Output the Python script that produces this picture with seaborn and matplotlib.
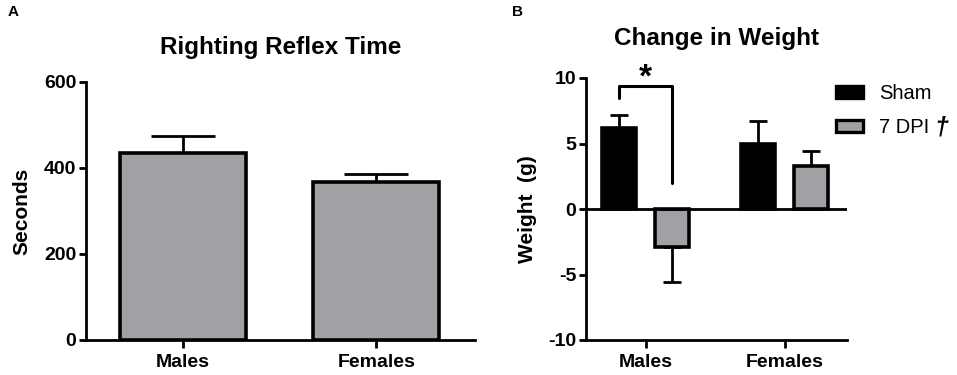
import numpy as np
import pandas as pd
import matplotlib
matplotlib.use("Agg")
import matplotlib.pyplot as plt
import seaborn as sns
from matplotlib.patches import Patch

sns.set_style("ticks")
plt.rcParams['font.family'] = ['Liberation Sans', 'DejaVu Sans']
plt.rcParams['axes.unicode_minus'] = False
for k in ("text.color", "axes.labelcolor", "axes.edgecolor",
          "xtick.color", "ytick.color", "xtick.labelcolor", "ytick.labelcolor"):
    plt.rcParams[k] = "black"

# ---- data ----
sexes = ["Males", "Females"]
righting_mean = [435, 367]
righting_sem = [40, 20]

groups = ["Sham", "7 DPI"]
sham_mean = [6.2, 5.0]
sham_sem = [1.0, 1.75]
dpi_mean = [-2.9, 3.3]
dpi_sem = [2.7, 1.1]

gray = "#a1a1a5"

dfA = pd.DataFrame({"sex": sexes, "seconds": righting_mean})
dfB = pd.DataFrame({
    "sex": sexes + sexes,
    "group": [groups[0]] * 2 + [groups[1]] * 2,
    "weight": sham_mean + dpi_mean,
})

fig = plt.figure(figsize=(9.57, 3.75), dpi=100)
axA = fig.add_axes([86/957, 1-340/375, (475-86)/957, (340-82)/375])
axB = fig.add_axes([586/957, 1-340/375, (847-586)/957, (340-78)/375])


def one_sided_err(ax, bars, means, errs, lw, cap):
    for b, m, e in zip(bars, means, errs):
        x = b.get_x() + b.get_width() / 2
        yerr = [[0], [e]] if m >= 0 else [[e], [0]]
        ax.errorbar([x], [m], yerr=yerr, fmt="none", ecolor="black",
                    elinewidth=lw, capsize=cap, capthick=lw, zorder=1)


# ---- panel A ----
sns.barplot(data=dfA, x="sex", y="seconds", color=gray, saturation=1,
            edgecolor="black", linewidth=2.6, width=0.65, errorbar=None, ax=axA)
for p in axA.patches:
    p.set_zorder(2)
one_sided_err(axA, axA.containers[0], righting_mean, righting_sem, 2.0, 23)
axA.set_ylim(0, 600)
axA.set_yticks([0, 200, 400, 600])
axA.set_xlim(-0.5, 1.51)
axA.set_xlabel("")
axA.set_ylabel("Seconds", fontsize=15, fontweight="bold", labelpad=9)
axA.set_title("Righting Reflex Time", fontsize=17.5, fontweight="bold", pad=20)

# ---- panel B ----
sns.barplot(data=dfB, x="sex", y="weight", hue="group", hue_order=groups,
            palette={"Sham": "black", "7 DPI": gray}, saturation=1,
            edgecolor="black", linewidth=2.6, width=0.76, gap=0.355,
            errorbar=None, legend=False, ax=axB)
for p in axB.patches:
    p.set_zorder(2)
one_sided_err(axB, axB.containers[0], sham_mean, sham_sem, 2.0, 6.8)
one_sided_err(axB, axB.containers[1], dpi_mean, dpi_sem, 2.0, 6.8)
axB.axhline(0, color="black", linewidth=2.0, zorder=3)
axB.set_ylim(-10, 10)
axB.set_yticks([-10, -5, 0, 5, 10])
axB.set_xlim(-0.43, 1.45)
axB.set_xlabel("")
axB.set_ylabel("Weight  (g)", fontsize=15, fontweight="bold", labelpad=8)
axB.set_title("Change in Weight", fontsize=17.5, fontweight="bold", pad=24)

# significance bracket between male bars
b1 = axB.containers[0][0]
b2 = axB.containers[1][0]
x1 = b1.get_x() + b1.get_width() / 2
x2 = b2.get_x() + b2.get_width() / 2
axB.plot([x1, x1, x2, x2], [8.5, 9.4, 9.4, 2.0], color="black", lw=2.2,
         clip_on=False, zorder=4)
axB.text((x1 + x2) / 2, 10.0, "*", ha="center", va="center",
         fontsize=24, fontweight="bold", clip_on=False)

for ax in (axA, axB):
    sns.despine(ax=ax)
    for s in ("left", "bottom"):
        ax.spines[s].set_linewidth(2.0)
        ax.spines[s].set_color("black")
    ax.tick_params(axis="y", length=5, width=2, labelsize=14, pad=2, colors="black")
    ax.tick_params(axis="x", length=6, width=2, labelsize=14, pad=4, colors="black")
    for lab in ax.get_xticklabels() + ax.get_yticklabels():
        lab.set_fontweight("bold")

# legend
handles = [Patch(facecolor="black", edgecolor="black", linewidth=2.4),
           Patch(facecolor=gray, edgecolor="black", linewidth=2.4)]
leg = fig.legend(handles, groups, loc="upper left",
                 bbox_to_anchor=(836/957, 1-84/375), frameon=False,
                 fontsize=14.5, handlelength=1.35, handleheight=0.55,
                 handletextpad=0.8, labelspacing=0.75, borderpad=0,
                 borderaxespad=0)
fig.canvas.draw()
bb = leg.get_texts()[1].get_window_extent()
fig.text((bb.x1 + 5) / 957, (bb.y0 + bb.y1) / 2 / 375, "\u2020",
         fontsize=18, fontweight="bold", fontstyle="italic", va="center")

fig.text(8/957, 1-12/375, "A", fontsize=11, fontweight="bold", va="center")
fig.text(512/957, 1-12/375, "B", fontsize=11, fontweight="bold", va="center")

fig.savefig("out.png", dpi=100)
